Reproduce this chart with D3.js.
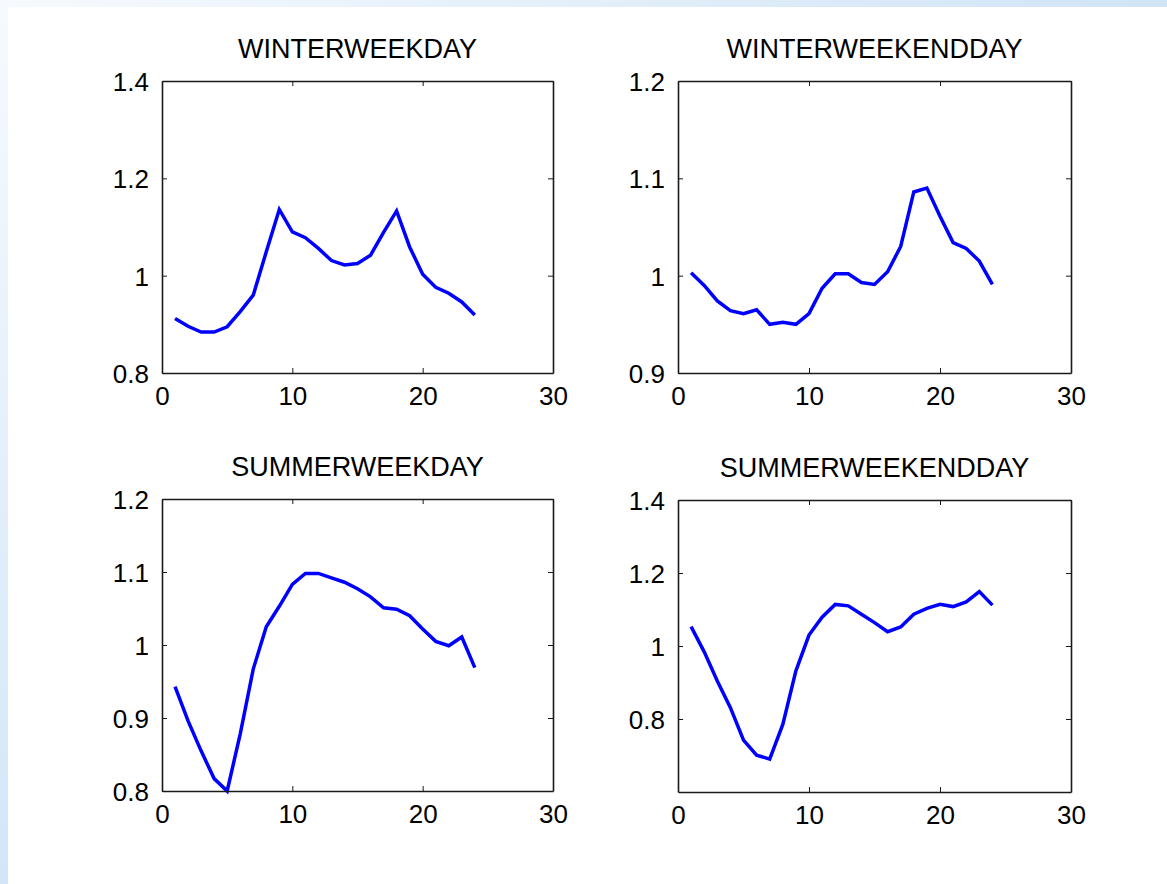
<!DOCTYPE html>
<html>
<head>
<meta charset="utf-8">
<script src="https://cdn.jsdelivr.net/npm/d3@7"></script>
<style>
  html, body { margin: 0; padding: 0; background: #fff; }
  svg { display: block; font-family: "Liberation Sans", Arial, sans-serif; }
</style>
</head>
<body>
<div id="chart"></div>
<script>
// hours of the day
var hours = d3.range(1, 25);

// panel titles
var titles = ["WINTERWEEKDAY", "WINTERWEEKENDDAY", "SUMMERWEEKDAY", "SUMMERWEEKENDDAY"];

// values
var winterWeekday = [0.912, 0.896, 0.884, 0.884, 0.895, 0.926, 0.960, 1.049, 1.136, 1.090, 1.078, 1.056,
                     1.031, 1.022, 1.025, 1.042, 1.089, 1.133, 1.059, 1.003, 0.976, 0.964, 0.946, 0.919];
var winterWeekend = [1.003, 0.990, 0.974, 0.964, 0.961, 0.965, 0.950, 0.952, 0.950, 0.961, 0.987, 1.002,
                     1.002, 0.993, 0.991, 1.004, 1.030, 1.086, 1.090, 1.061, 1.034, 1.028, 1.015, 0.991];
var summerWeekday = [0.943, 0.896, 0.855, 0.817, 0.800, 0.878, 0.967, 1.025, 1.053, 1.083, 1.098, 1.098,
                     1.092, 1.086, 1.077, 1.066, 1.051, 1.049, 1.040, 1.022, 1.005, 0.999, 1.011, 0.969];
var summerWeekend = [1.053, 0.984, 0.904, 0.831, 0.742, 0.701, 0.690, 0.785, 0.932, 1.030, 1.079, 1.114,
                     1.110, 1.087, 1.064, 1.039, 1.052, 1.087, 1.103, 1.114, 1.108, 1.121, 1.149, 1.112];

// axis ranges and tick labels
var xDomain = [0, 30];
var xTicks = [0, 10, 20, 30];
var yDomains = [[0.8, 1.4], [0.9, 1.2], [0.8, 1.2], [0.6, 1.4]];
var yTicks = [[0.8, 1, 1.2, 1.4], [0.9, 1, 1.1, 1.2], [0.8, 0.9, 1, 1.1, 1.2], [0.8, 1, 1.2, 1.4]];

var series = [winterWeekday, winterWeekend, summerWeekday, summerWeekend];

var W = 1167, H = 884;

var svg = d3.select("#chart").append("svg")
    .attr("width", W)
    .attr("height", H);

// slide background: light blue strips along top and left edges
var defs = svg.append("defs");
var gTop = defs.append("linearGradient").attr("id", "gtop").attr("x1", 0).attr("x2", 1).attr("y1", 0).attr("y2", 0);
gTop.append("stop").attr("offset", 0).attr("stop-color", "#f6fafe");
gTop.append("stop").attr("offset", 1).attr("stop-color", "#d0e4f6");
var gLeft = defs.append("linearGradient").attr("id", "gleft").attr("x1", 0).attr("x2", 0).attr("y1", 0).attr("y2", 1);
gLeft.append("stop").attr("offset", 0).attr("stop-color", "#f6fafe");
gLeft.append("stop").attr("offset", 1).attr("stop-color", "#d2e6f8");

svg.append("rect").attr("x", 0).attr("y", 0).attr("width", W).attr("height", 7).attr("fill", "url(#gtop)");
svg.append("rect").attr("x", 0).attr("y", 0).attr("width", 8).attr("height", H).attr("fill", "url(#gleft)");

// panel boxes
var boxes = [
  {left: 162, top: 81,  width: 391, height: 292},
  {left: 678, top: 81,  width: 393, height: 292},
  {left: 162, top: 499, width: 391, height: 292},
  {left: 678, top: 500, width: 393, height: 292}
];

boxes.forEach(function(b, i) {
  var x = d3.scaleLinear().domain(xDomain).range([0, b.width]);
  var y = d3.scaleLinear().domain(yDomains[i]).range([b.height, 0]);

  var g = svg.append("g")
      .attr("transform", "translate(" + b.left + "," + b.top + ")");

  // title
  g.append("text")
      .attr("x", b.width / 2)
      .attr("y", -23)
      .attr("text-anchor", "middle")
      .style("font-size", "27px")
      .style("fill", "#000")
      .text(titles[i]);

  // data line
  var line = d3.line()
      .x(function(d, j) { return x(hours[j]); })
      .y(function(d) { return y(d); });

  g.append("path")
      .datum(series[i])
      .attr("d", line)
      .style("fill", "none")
      .style("stroke", "#0000ff")
      .style("stroke-width", 3.5)
      .style("stroke-linejoin", "miter");

  // axes, ticks pointing inward on all four sides
  var bottom = g.append("g")
      .attr("transform", "translate(0," + b.height + ")")
      .call(d3.axisBottom(x).tickValues(xTicks).tickSizeInner(-5).tickSizeOuter(0).tickPadding(14).tickFormat(d3.format("d")));
  var left = g.append("g")
      .call(d3.axisLeft(y).tickValues(yTicks[i]).tickSizeInner(-5).tickSizeOuter(0).tickPadding(13).tickFormat(function(d) { return d3.format("")(+d.toFixed(2)); }));
  var top = g.append("g")
      .call(d3.axisTop(x).tickValues(xTicks).tickSizeInner(-5).tickSizeOuter(0).tickFormat(""));
  var right = g.append("g")
      .attr("transform", "translate(" + b.width + ",0)")
      .call(d3.axisRight(y).tickValues(yTicks[i]).tickSizeInner(-5).tickSizeOuter(0).tickFormat(""));

  [bottom, left, top, right].forEach(function(ax) {
    ax.select(".domain").style("stroke", "#1a1a1a").style("stroke-width", 1.6);
    ax.selectAll(".tick line").style("stroke", "#1a1a1a").style("stroke-width", 1);
    ax.selectAll("text")
      .style("font-size", "26px")
      .style("font-family", "'Liberation Sans', Arial, sans-serif")
      .style("fill", "#000");
  });
  left.selectAll("text").attr("dy", "0.36em");
});
</script>
</body>
</html>
